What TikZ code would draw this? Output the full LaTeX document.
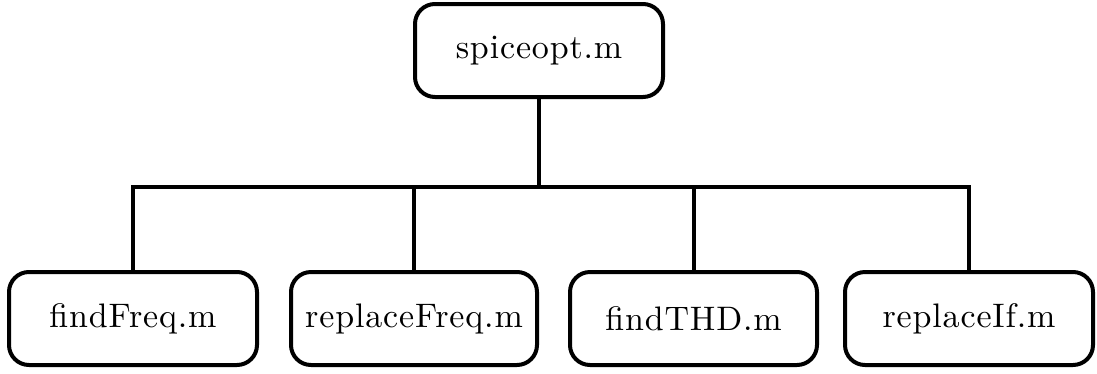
\documentclass[tikz,border=0pt]{standalone}
\usepackage{fontspec}
\newfontfamily\boxfont{lmroman10-regular}[Extension=.otf, LetterSpace=2.5]
\begin{document}
\begin{tikzpicture}[x=1pt,y=-1pt,
  filebox/.style={draw=black, line width=4pt, rounded corners=20pt, minimum width=#1, minimum height=93pt, inner sep=0pt,
    font=\boxfont\fontsize{34}{40}\selectfont},
  link/.style={draw=black, line width=4pt}]
\useasboundingbox (0,0) rectangle (1097,373);
\node[filebox=248pt] (top) at (539,50.5) {spiceopt.m};
\node[filebox=248pt] (a) at (133,318.5) {findFreq.m};
\node[filebox=246pt] (b) at (414,318.5) {replaceFreq.m};
\node[filebox=247pt] (c) at (693.5,318.5) {findTHD.m};
\node[filebox=248pt] (d) at (969,318.5) {replaceIf.m};
\coordinate (hub) at (539,187);
\draw[link] (top.south) -- (hub);
\draw[link] (a.north) |- (hub) -| (d.north);
\draw[link] (b.north) -- (b.north |- hub);
\draw[link] (c.north) -- (c.north |- hub);
\end{tikzpicture}
\end{document}
